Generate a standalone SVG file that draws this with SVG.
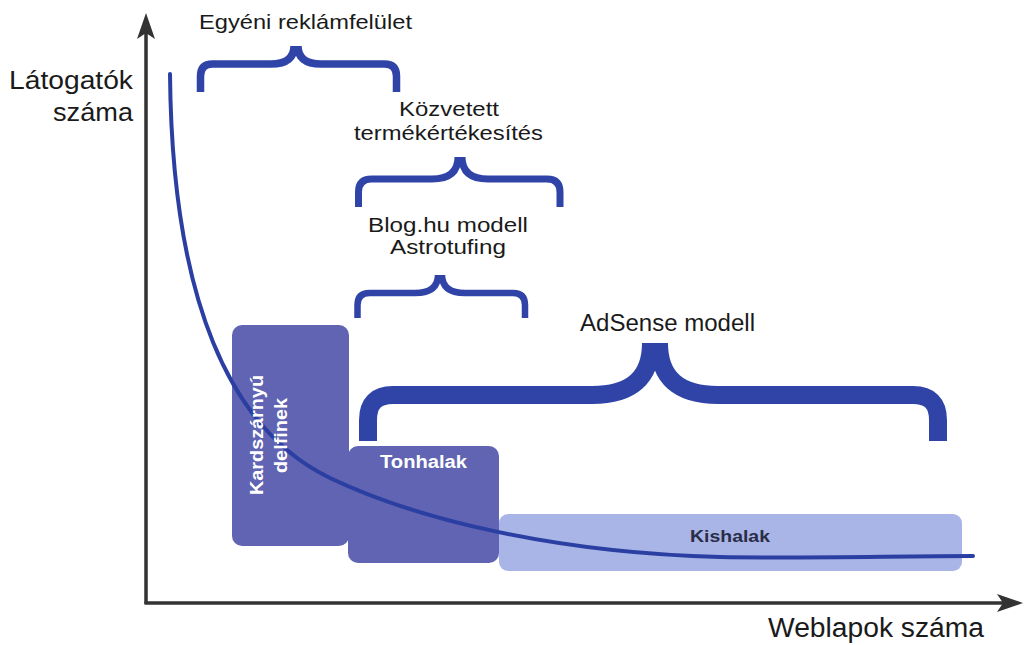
<svg xmlns="http://www.w3.org/2000/svg" width="1024" height="645" viewBox="0 0 1024 645">
  <style>
    .lbl { font-family: "Liberation Sans", Arial, Helvetica, sans-serif; fill: #1a1a1a; }
    .box-lbl { font-family: "Liberation Sans", Arial, Helvetica, sans-serif; font-weight: bold; }
    .brace { fill: none; stroke: #3044a8; stroke-linecap: butt; stroke-linejoin: round; }
    .axis { stroke: #333333; stroke-width: 3.5; fill: none; }
    .arrowhead { fill: #333333; }
    .boxDark { fill: #6064b2; }
    .boxLight { fill: #a8b5e6; }
    .curve { fill: none; stroke: #2b3fa2; stroke-width: 4; stroke-linecap: round; }
  </style>
  <rect x="0" y="0" width="1024" height="645" fill="#ffffff"/>

  <g id="axes">
    <line class="axis" x1="146" y1="604" x2="146" y2="30"/>
    <line class="axis" x1="144.5" y1="603" x2="1008" y2="603"/>
    <polygon class="arrowhead" points="146,13 155,39 146,33 137,39"/>
    <polygon class="arrowhead" points="1023,603 997,612 1003,603 997,594"/>
    <text class="lbl" x="9" y="89" font-size="26" textLength="124" lengthAdjust="spacingAndGlyphs">Látogatók</text>
    <text class="lbl" x="53" y="121" font-size="26" textLength="80" lengthAdjust="spacingAndGlyphs">száma</text>
    <text class="lbl" x="768" y="637" font-size="27" textLength="216" lengthAdjust="spacingAndGlyphs">Weblapok száma</text>
  </g>

  <g id="node-kardszarnyu">
    <rect class="boxDark" x="232" y="325" width="117" height="221" rx="10"/>
  </g>

  <g id="node-tonhalak">
    <rect class="boxDark" x="348" y="446" width="151" height="117" rx="10"/>
  </g>

  <g id="node-kishalak">
    <rect class="boxLight" x="499" y="514" width="463" height="57" rx="9"/>
  </g>

  <g id="curve">
    <path class="curve" d="M170,74 C172,300 230,430 330,478 C420,521 560,553 720,557 C800,558.5 900,556 973,556"/>
  </g>

  <g id="node-labels">
    <text class="box-lbl" fill="#ffffff" font-size="18" text-anchor="middle" transform="translate(263,435) rotate(-90)" textLength="120" lengthAdjust="spacingAndGlyphs">Kardszárnyú</text>
    <text class="box-lbl" fill="#ffffff" font-size="18" text-anchor="middle" transform="translate(287,435.5) rotate(-90)" textLength="75" lengthAdjust="spacingAndGlyphs">delfinek</text>
    <text class="box-lbl" fill="#ffffff" x="380" y="468" font-size="18" textLength="87" lengthAdjust="spacingAndGlyphs">Tonhalak</text>
    <text class="box-lbl" fill="#2b2d48" x="690" y="542" font-size="17" textLength="80" lengthAdjust="spacingAndGlyphs">Kishalak</text>
  </g>

  <g id="connectors">
    <!-- Brace 1: Egyéni reklámfelület -->
    <path class="brace" stroke-width="7.5" d="M200.5,92 V76 Q200.5,64 212.5,64 H271 Q294,64 294,46 M298,46 Q298,64 321,64 H384.5 Q396.5,64 396.5,76 V92"/>
    <!-- Brace 2: Közvetett termékértékesítés -->
    <path class="brace" stroke-width="7" d="M358.5,207 V192 Q358.5,179 371.5,179 H432 Q458,179 458,157 M462,157 Q462,179 488,179 H547 Q560,179 560,192 V207"/>
    <!-- Brace 3: Blog.hu modell / Astrotufing -->
    <path class="brace" stroke-width="6.5" d="M357.5,318 V305 Q357.5,293 369.5,293 H415 Q438,293 438,275 M442,275 Q442,293 465,293 H513 Q525,293 525,305 V318"/>
    <!-- Brace 4: AdSense modell -->
    <path class="brace" stroke-width="18" d="M368,441 V420 Q368,395 393,395 H592 Q651,395 651,343 M659,343 Q659,395 718,395 H913 Q938,395 938,420 V441"/>
  </g>

  <g id="labels">
    <text class="lbl" x="199" y="29" font-size="21" textLength="213" lengthAdjust="spacingAndGlyphs">Egyéni reklámfelület</text>
    <text class="lbl" x="399" y="116" font-size="21" textLength="100" lengthAdjust="spacingAndGlyphs">Közvetett</text>
    <text class="lbl" x="354" y="140" font-size="21" textLength="189" lengthAdjust="spacingAndGlyphs">termékértékesítés</text>
    <text class="lbl" x="368" y="232" font-size="21" textLength="160" lengthAdjust="spacingAndGlyphs">Blog.hu modell</text>
    <text class="lbl" x="390" y="254" font-size="21" textLength="116" lengthAdjust="spacingAndGlyphs">Astrotufing</text>
    <text class="lbl" x="580" y="331" font-size="23" textLength="175" lengthAdjust="spacingAndGlyphs">AdSense modell</text>
  </g>
</svg>
